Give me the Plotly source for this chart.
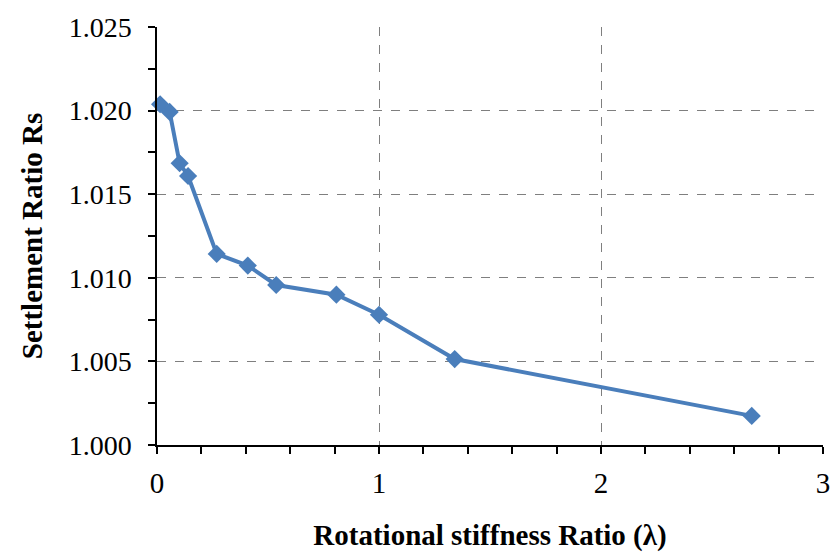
import plotly.graph_objects as go

stiffness_ratio = [0.014, 0.057, 0.102, 0.140, 0.269, 0.409, 0.537, 0.808, 1.0, 1.341, 2.679]
settlement_ratio = [1.02038, 1.01992, 1.01685, 1.01609, 1.01143, 1.01073, 1.00957, 1.00899, 1.00779, 1.00514, 1.00174]

x_ticks = [0, 1, 2, 3]
y_ticks = [1.000, 1.005, 1.010, 1.015, 1.020, 1.025]

color = "#4A7EBB"
font_family = "Liberation Serif, Times New Roman, serif"
grid_color = "#7f7f7f"

fig = go.Figure()
fig.add_trace(go.Scatter(
    x=stiffness_ratio, y=settlement_ratio, mode="lines+markers",
    line=dict(color=color, width=4),
    marker=dict(symbol="diamond", size=14, color=color),
    showlegend=False, cliponaxis=False,
))

fig.update_layout(
    width=833, height=552,
    margin=dict(l=157, r=10, t=27, b=107, autoexpand=False),
    paper_bgcolor="white", plot_bgcolor="white",
    font=dict(family=font_family, size=28, color="black"),
    xaxis=dict(
        range=[0, 3], tickvals=x_ticks, ticktext=[str(v) for v in x_ticks],
        showgrid=True, gridcolor=grid_color, griddash="dash", gridwidth=1.2,
        showline=True, linecolor="black", linewidth=1.5,
        ticks="outside", ticklen=7, tickcolor="black", tickwidth=1.5,
        minor=dict(dtick=0.2, ticks="outside", ticklen=7, tickcolor="black", tickwidth=1.5, showgrid=False),
        zeroline=False, ticklabelstandoff=4, tickfont=dict(size=29), automargin=False,
        title=dict(text="<b>Rotational stiffness Ratio (λ)</b>", font=dict(size=29), standoff=34),
    ),
    yaxis=dict(
        range=[1.000, 1.025], tickvals=y_ticks, ticktext=[f"{v:.3f}" for v in y_ticks],
        showgrid=True, gridcolor=grid_color, griddash="dash", gridwidth=1.2,
        showline=True, linecolor="black", linewidth=1.5,
        ticks="outside", ticklen=7, tickcolor="black", tickwidth=1.5,
        minor=dict(dtick=0.0025, ticks="outside", ticklen=7, tickcolor="black", tickwidth=1.5, showgrid=False),
        zeroline=False, ticklabelstandoff=11, tickfont=dict(size=28), automargin=False,
        title=dict(text="<b>Settlement Ratio Rs</b>", font=dict(size=29), standoff=18),
    ),
)

fig.write_html("out.html", config={"displayModeBar": False},
               post_script="document.body.style.margin='0px';")
